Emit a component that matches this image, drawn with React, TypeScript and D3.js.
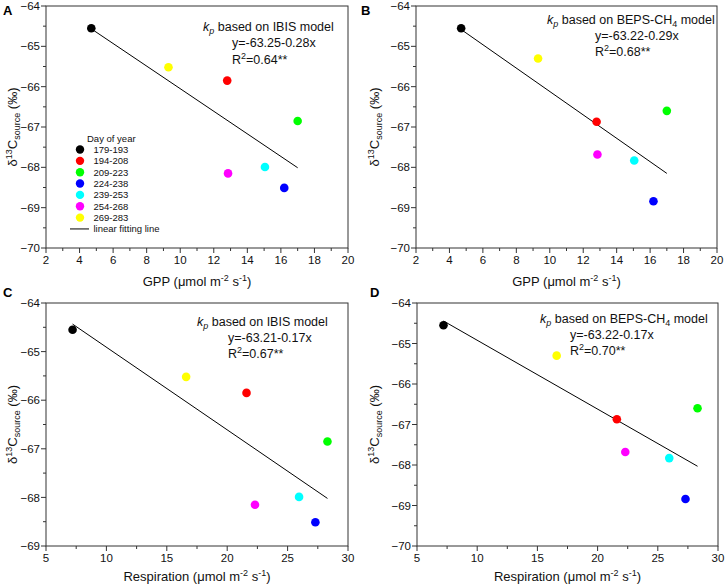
import React from 'react';
import * as d3 from 'd3';

// Sampling periods (day of year) and their marker colours
const periods = ['179-193', '194-208', '209-223', '224-238', '239-253', '254-268', '269-283'];
const periodColors = ['#000000', '#ff0000', '#00ff00', '#0000ff', '#00ffff', '#ff00ff', '#ffff00'];

// Drivers per period (µmol m-2 s-1)
const gpp = [4.7, 12.8, 17.0, 16.2, 15.05, 12.85, 9.3];
const respiration = [7.2, 21.6, 28.3, 27.3, 25.95, 22.3, 16.6];

// δ13C of the methane source (‰) derived with each kp model
const d13cIbis = [-64.55, -65.85, -66.85, -68.51, -67.99, -68.15, -65.52];
const d13cBeps = [-64.55, -66.87, -66.6, -68.84, -67.83, -67.68, -65.3];

// Linear fits, panels A-D
const fitIntercepts = [-63.25, -63.22, -63.21, -63.22];
const fitSlopes = [-0.28, -0.29, -0.17, -0.17];
const rSquared = ['0.64', '0.68', '0.67', '0.70'];
const significance = ['**', '**', '**', '**'];

// Axis ticks
const gppTicks = [2, 4, 6, 8, 10, 12, 14, 16, 18, 20];
const respTicks = [5, 10, 15, 20, 25, 30];
const d13cTicks = [-70, -69, -68, -67, -66, -65, -64];
const d13cTicksShort = [-69, -68, -67, -66, -65, -64];

const FONT = '"Liberation Sans", Arial, Helvetica, sans-serif';

type PanelSpec = {
  label: string;
  xs: number[];
  ys: number[];
  xTicks: number[];
  yTicks: number[];
  xTitle: string;
  model: 'IBIS' | 'BEPS';
  fit: number;
  left: number;
  right: number;
  top: number;
  bottom: number;
  labelX: number;
  labelY: number;
  yTitleX: number;
  xTitleY: number;
  ann1X: number;
  ann2X: number;
  annY: number;
  legend: boolean;
};

const panels: PanelSpec[] = [
  {
    label: 'A', xs: gpp, ys: d13cIbis, xTicks: gppTicks, yTicks: d13cTicks, xTitle: 'GPP', model: 'IBIS', fit: 0,
    left: 46, right: 348, top: 6, bottom: 248, labelX: 3, labelY: 14.5, yTitleX: 17, xTitleY: 286,
    ann1X: 203, ann2X: 232, annY: 31, legend: true,
  },
  {
    label: 'B', xs: gpp, ys: d13cBeps, xTicks: gppTicks, yTicks: d13cTicks, xTitle: 'GPP', model: 'BEPS', fit: 1,
    left: 416, right: 717, top: 6, bottom: 248, labelX: 361, labelY: 14.5, yTitleX: 379, xTitleY: 286,
    ann1X: 547, ann2X: 595, annY: 23.5, legend: false,
  },
  {
    label: 'C', xs: respiration, ys: d13cIbis, xTicks: respTicks, yTicks: d13cTicksShort, xTitle: 'Respiration', model: 'IBIS', fit: 2,
    left: 46, right: 348, top: 303, bottom: 546, labelX: 3, labelY: 297, yTitleX: 17, xTitleY: 581,
    ann1X: 197, ann2X: 228, annY: 325.5, legend: false,
  },
  {
    label: 'D', xs: respiration, ys: d13cBeps, xTicks: respTicks, yTicks: d13cTicks, xTitle: 'Respiration', model: 'BEPS', fit: 3,
    left: 417, right: 718, top: 303, bottom: 546, labelX: 370, labelY: 297, yTitleX: 379, xTitleY: 581,
    ann1X: 540, ann2X: 570, annY: 322.5, legend: false,
  },
];

const AXIS = '#333';

function Panel({ p }: { p: PanelSpec }) {
  const xDom = d3.extent(p.xTicks) as [number, number];
  const yDom = d3.extent(p.yTicks) as [number, number];
  const x = d3.scaleLinear().domain(xDom).range([p.left, p.right]);
  const y = d3.scaleLinear().domain(yDom).range([p.bottom, p.top]);
  const xStep = p.xTicks[1] - p.xTicks[0];
  const xMinor = p.xTicks.slice(0, -1).map((v) => v + xStep / 2);
  const yMinor = p.yTicks.slice(0, -1).map((v) => v + 0.5);

  const b = fitIntercepts[p.fit];
  const m = fitSlopes[p.fit];
  const [x0, x1] = d3.extent(p.xs) as [number, number];
  const fitPath = d3.line()([
    [x(x0), y(b + m * x0)],
    [x(x1), y(b + m * x1)],
  ]) as string;

  const eq = `y=${b.toFixed(2)}${m < 0 ? '-' : '+'}${Math.abs(m).toFixed(2)}x`;
  const annSize = 12.5;
  const lineGap = 16.3;

  // legend layout
  const legX = p.left + 34;
  const legY0 = 149.5;
  const legStep = 11.35;

  return (
    <g>
      <text x={p.labelX} y={p.labelY} fontSize={13} fontWeight="bold" fontFamily={FONT}>{p.label}</text>

      {/* frame */}
      <rect x={p.left} y={p.top} width={p.right - p.left} height={p.bottom - p.top} fill="none" stroke={AXIS} strokeWidth={1} />

      {/* x ticks */}
      {p.xTicks.map((t) => (
        <g key={'xt' + t}>
          <line x1={x(t)} x2={x(t)} y1={p.bottom} y2={p.bottom + 5} stroke={AXIS} />
          <text x={x(t)} y={p.bottom + 16} fontSize={11.5} textAnchor="middle" fontFamily={FONT} fill="#111">{t}</text>
        </g>
      ))}
      {xMinor.map((t) => (
        <line key={'xm' + t} x1={x(t)} x2={x(t)} y1={p.bottom} y2={p.bottom + 3} stroke={AXIS} />
      ))}

      {/* y ticks */}
      {p.yTicks.map((t) => (
        <g key={'yt' + t}>
          <line x1={p.left - 5} x2={p.left} y1={y(t)} y2={y(t)} stroke={AXIS} />
          <text x={p.left - 6} y={y(t)} dy="0.36em" fontSize={11.5} textAnchor="end" fontFamily={FONT} fill="#111">
            {'\u2212' + Math.abs(t)}
          </text>
        </g>
      ))}
      {yMinor.map((t) => (
        <line key={'ym' + t} x1={p.left - 3} x2={p.left} y1={y(t)} y2={y(t)} stroke={AXIS} />
      ))}

      {/* axis titles */}
      <text x={(p.left + p.right) / 2} y={p.xTitleY} fontSize={13} textAnchor="middle" fontFamily={FONT} fill="#111">
        {p.xTitle + ' (\u03bcmol m'}
        <tspan dy={-5} fontSize={9}>-2</tspan>
        <tspan dy={5}> s</tspan>
        <tspan dy={-5} fontSize={9}>-1</tspan>
        <tspan dy={5}>)</tspan>
      </text>
      <text
        transform={`translate(${p.yTitleX},${(p.top + p.bottom) / 2}) rotate(-90)`}
        fontSize={13}
        textAnchor="middle"
        fontFamily={FONT}
        fill="#111"
      >
        {'\u03b4'}
        <tspan dy={-5} fontSize={9}>13</tspan>
        <tspan dy={5}>C</tspan>
        <tspan dy={3} fontSize={9}>source</tspan>
        <tspan dy={-3}>{' (\u2030)'}</tspan>
      </text>

      {/* fitted line */}
      <path d={fitPath} stroke="#000" strokeWidth={1} fill="none" />

      {/* observations */}
      {p.xs.map((v, i) => (
        <circle key={'pt' + i} cx={x(v)} cy={y(p.ys[i])} r={4.3} fill={periodColors[i]} />
      ))}

      {/* fit annotation */}
      <text x={p.ann1X} y={p.annY} fontSize={annSize} fontFamily={FONT} fill="#111">
        <tspan fontStyle="italic">k</tspan>
        <tspan fontStyle="italic" fontSize={9} dy={3}>p</tspan>
        <tspan dy={-3}>{p.model === 'IBIS' ? ' based on IBIS model' : ' based on BEPS-CH'}</tspan>
        {p.model === 'BEPS' && (
          <>
            <tspan fontSize={9} dy={3}>4</tspan>
            <tspan dy={-3}> model</tspan>
          </>
        )}
      </text>
      <text x={p.ann2X} y={p.annY + lineGap} fontSize={annSize} fontFamily={FONT} fill="#111">{eq}</text>
      <text x={p.ann2X} y={p.annY + 2 * lineGap} fontSize={annSize} fontFamily={FONT} fill="#111">
        R<tspan dy={-5} fontSize={9}>2</tspan>
        <tspan dy={5}>{'=' + rSquared[p.fit] + significance[p.fit]}</tspan>
      </text>

      {/* legend */}
      {p.legend && (
        <g fontFamily={FONT} fontSize={9.5} fill="#111">
          <text x={legX + 7} y={legY0 - 8}>Day of year</text>
          {periods.map((d, i) => (
            <g key={d}>
              <circle cx={legX} cy={legY0 + i * legStep} r={4.2} fill={periodColors[i]} />
              <text x={legX + 13.5} y={legY0 + i * legStep} dy="0.35em">{d}</text>
            </g>
          ))}
          <line
            x1={legX - 10}
            x2={legX + 9}
            y1={legY0 + periods.length * legStep}
            y2={legY0 + periods.length * legStep}
            stroke="#000"
          />
          <text x={legX + 13.5} y={legY0 + periods.length * legStep} dy="0.35em">linear fitting line</text>
        </g>
      )}
    </g>
  );
}

export default function App() {
  return (
    <svg
      width={726}
      height={588}
      viewBox="0 0 726 588"
      style={{ position: 'absolute', left: 0, top: 0, background: '#fff' }}
    >
      <rect width={726} height={588} fill="#fff" />
      {panels.map((p) => (
        <Panel key={p.label} p={p} />
      ))}
    </svg>
  );
}
